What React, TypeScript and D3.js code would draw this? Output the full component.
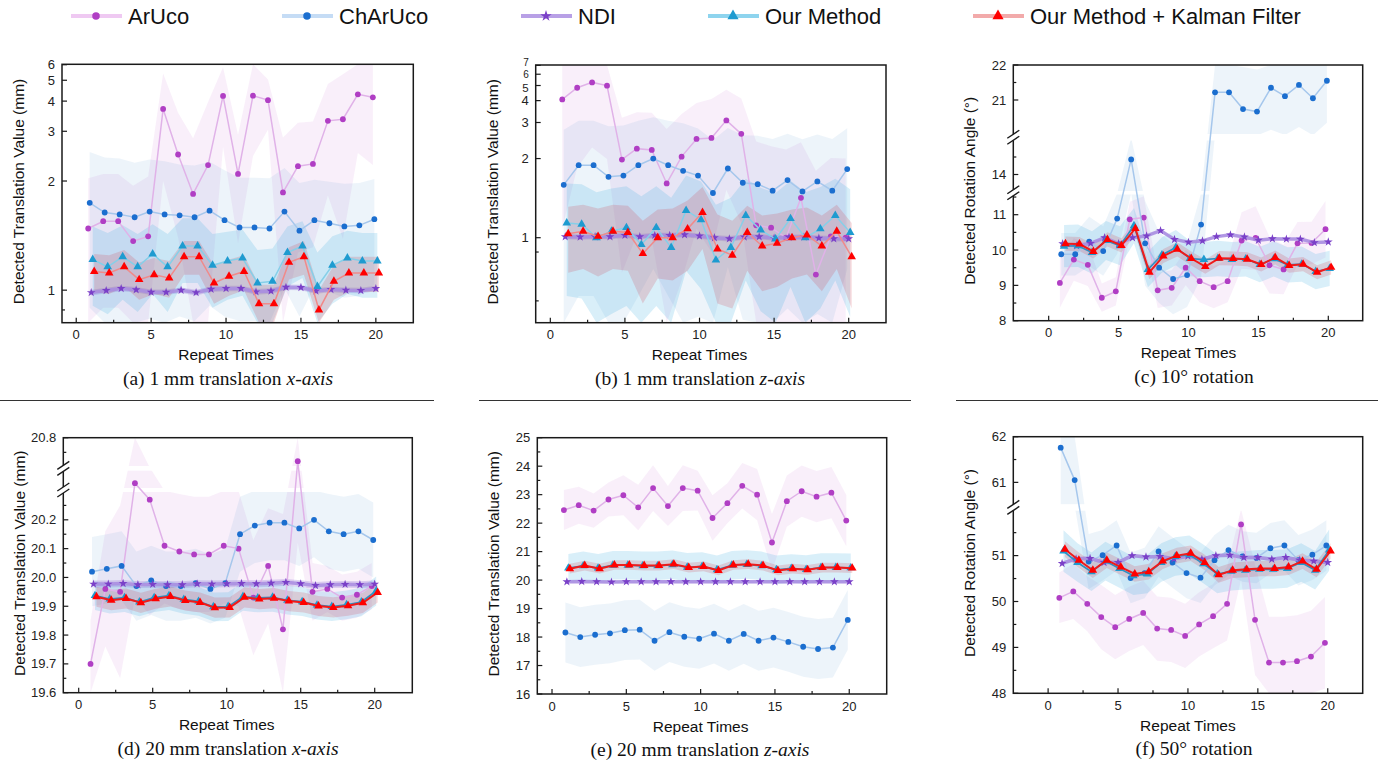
import React from 'react';
import * as d3 from 'd3';

// ---------------- DATA ----------------
const repeats = [1, 2, 3, 4, 5, 6, 7, 8, 9, 10, 11, 12, 13, 14, 15, 16, 17, 18, 19, 20];
const seriesNames = ['ArUco', 'ChArUco', 'NDI', 'Our Method', 'Our Method + Kalman Filter'];

// (a) 1 mm translation x-axis
const aArUco = [1.44, 1.51, 1.51, 1.33, 1.37, 3.70, 2.46, 1.82, 2.26, 4.22, 2.11, 4.23, 4.04, 1.84, 2.24, 2.28, 3.30, 3.35, 4.29, 4.16];
const aArUcoSd = [0.6, 0.6, 0.6, 0.6, 0.7, 1.7, 1.1, 1.0, 1.7, 1.6, 0.8, 1.8, 1.0, 1.0, 1.0, 1.0, 1.5, 2.0, 1.8, 1.9];
const aChArUco = [1.71, 1.60, 1.58, 1.55, 1.61, 1.58, 1.57, 1.55, 1.62, 1.52, 1.45, 1.45, 1.44, 1.61, 1.42, 1.52, 1.49, 1.46, 1.47, 1.53];
const aChArUcoSd = [0.8, 0.8, 0.8, 0.75, 0.75, 0.75, 0.7, 0.7, 0.7, 0.65, 0.6, 0.6, 0.6, 0.6, 0.55, 0.5, 0.5, 0.5, 0.5, 0.5];
const aNDI = [0.987, 0.998, 1.009, 1.002, 0.989, 0.989, 1.0, 0.987, 1.005, 1.009, 1.009, 0.991, 0.996, 1.016, 1.015, 0.996, 1.004, 1.0, 0.998, 1.009];
const aNDISd = [0.015, 0.015, 0.015, 0.015, 0.015, 0.015, 0.015, 0.015, 0.015, 0.015, 0.015, 0.015, 0.015, 0.015, 0.015, 0.015, 0.015, 0.015, 0.015, 0.015];
const aOur = [1.19, 1.14, 1.21, 1.14, 1.23, 1.14, 1.29, 1.29, 1.15, 1.18, 1.20, 1.04, 1.05, 1.24, 1.29, 1.02, 1.15, 1.20, 1.18, 1.18];
const aOurSd = [0.27, 0.26, 0.26, 0.25, 0.25, 0.25, 0.25, 0.25, 0.24, 0.23, 0.23, 0.22, 0.22, 0.22, 0.22, 0.22, 0.22, 0.22, 0.22, 0.22];
const aKalman = [1.11, 1.10, 1.14, 1.06, 1.09, 1.07, 1.21, 1.21, 1.04, 1.08, 1.11, 0.93, 0.93, 1.17, 1.21, 0.90, 1.05, 1.10, 1.10, 1.10];
const aKalmanSd = [0.12, 0.12, 0.12, 0.11, 0.11, 0.11, 0.12, 0.12, 0.11, 0.11, 0.11, 0.1, 0.1, 0.11, 0.12, 0.1, 0.1, 0.11, 0.11, 0.11];

// (b) 1 mm translation z-axis
const bArUco = [4.07, 4.83, 5.25, 4.99, 1.98, 2.22, 2.19, 1.57, 2.04, 2.47, 2.50, 3.08, 2.62, 1.10, 1.08, 1.00, 1.38, 0.77, 1.01, 1.00];
const bArUcoSd = [3.0, 3.0, 3.0, 3.0, 1.2, 1.2, 1.2, 1.2, 1.3, 1.4, 1.6, 1.6, 1.5, 1.3, 1.2, 1.2, 1.0, 1.0, 1.0, 1.0];
const bChArUco = [1.55, 1.87, 1.87, 1.67, 1.69, 1.87, 2.00, 1.87, 1.77, 1.69, 1.44, 1.81, 1.58, 1.56, 1.47, 1.62, 1.46, 1.60, 1.47, 1.80];
const bChArUcoSd = [1.2, 1.2, 1.2, 1.2, 1.2, 1.2, 1.2, 1.2, 1.2, 1.1, 1.0, 1.0, 1.0, 1.0, 1.0, 1.0, 1.0, 1.0, 1.0, 1.0];
const bNDI = [1.008, 1.005, 1.008, 1.008, 1.018, 1.008, 1.018, 1.018, 1.023, 1.013, 1.0, 0.992, 1.005, 1.008, 0.997, 1.003, 1.005, 0.997, 0.992, 0.992];
const bNDISd = [0.02, 0.02, 0.02, 0.02, 0.02, 0.02, 0.02, 0.02, 0.02, 0.02, 0.02, 0.02, 0.02, 0.02, 0.02, 0.02, 0.02, 0.02, 0.02, 0.02];
const bOur = [1.12, 1.11, 1.00, 1.05, 1.08, 0.95, 1.08, 0.93, 1.24, 1.15, 0.85, 0.93, 1.19, 1.06, 0.99, 1.16, 1.00, 1.07, 1.19, 1.04];
const bOurSd = [0.45, 0.45, 0.45, 0.45, 0.45, 0.45, 0.45, 0.45, 0.45, 0.45, 0.45, 0.45, 0.45, 0.45, 0.45, 0.45, 0.45, 0.45, 0.45, 0.45];
const bKalman = [1.03, 1.05, 1.01, 1.05, 1.04, 0.89, 1.00, 1.00, 1.07, 1.22, 0.92, 0.88, 1.04, 0.94, 0.96, 1.00, 1.02, 0.94, 1.05, 0.87];
const bKalmanSd = [0.25, 0.25, 0.25, 0.25, 0.25, 0.25, 0.25, 0.26, 0.28, 0.3, 0.28, 0.26, 0.25, 0.25, 0.25, 0.25, 0.25, 0.25, 0.25, 0.25];

// (c) 10 deg rotation
const cArUco = [9.07, 9.73, 9.58, 8.65, 8.83, 10.87, 10.92, 8.86, 8.93, 9.50, 9.12, 8.95, 9.12, 10.27, 10.34, 9.57, 9.45, 10.19, 10.20, 10.59];
const cArUcoSd = [0.7, 0.6, 0.6, 0.4, 0.4, 0.5, 0.6, 0.5, 0.5, 0.5, 0.6, 0.6, 0.6, 0.8, 0.9, 0.8, 0.7, 0.6, 0.6, 0.8];
const cChArUco = [9.88, 9.88, 10.24, 9.97, 10.89, 14.43, 10.19, 9.50, 9.18, 9.29, 10.72, 21.22, 21.22, 20.74, 20.67, 21.35, 21.11, 21.43, 21.05, 21.55];
const cChArUcoSd = [0.6, 0.6, 0.7, 0.7, 1.0, 2.5, 1.2, 1.0, 1.0, 0.9, 1.5, 1.2, 1.2, 1.2, 1.2, 1.2, 1.2, 1.2, 1.2, 1.2];
const cNDI = [10.18, 10.12, 10.19, 10.35, 10.18, 10.35, 10.40, 10.55, 10.30, 10.22, 10.26, 10.38, 10.43, 10.37, 10.28, 10.32, 10.31, 10.31, 10.21, 10.23];
const cNDISd = [0.03, 0.03, 0.03, 0.03, 0.03, 0.03, 0.03, 0.03, 0.03, 0.03, 0.03, 0.03, 0.03, 0.03, 0.03, 0.03, 0.03, 0.03, 0.03, 0.03];
const cOur = [10.11, 10.12, 9.93, 10.27, 10.12, 10.69, 9.45, 9.86, 10.07, 9.76, 9.73, 9.76, 9.73, 9.75, 9.59, 9.75, 9.58, 9.60, 9.39, 9.48];
const cOurSd = [0.6, 0.6, 0.6, 0.55, 0.55, 0.5, 0.5, 0.5, 0.5, 0.5, 0.5, 0.5, 0.5, 0.5, 0.5, 0.5, 0.5, 0.5, 0.5, 0.5];
const cKalman = [10.18, 10.17, 9.96, 10.30, 10.13, 10.61, 9.37, 9.83, 10.02, 9.76, 9.53, 9.77, 9.76, 9.74, 9.59, 9.79, 9.56, 9.60, 9.37, 9.51];
const cKalmanSd = [0.2, 0.2, 0.2, 0.2, 0.2, 0.2, 0.2, 0.2, 0.2, 0.2, 0.2, 0.2, 0.2, 0.2, 0.2, 0.2, 0.2, 0.2, 0.2, 0.2];

// (d) 20 mm translation x-axis
const dArUco = [19.70, 19.96, 19.95, 20.43, 20.27, 20.11, 20.09, 20.08, 20.08, 20.11, 20.10, 19.93, 20.04, 19.82, 20.72, 19.95, 19.96, 19.93, 19.94, 19.97];
const dArUcoSd = [0.15, 0.2, 0.3, 0.5, 0.4, 0.2, 0.2, 0.2, 0.2, 0.2, 0.2, 0.2, 0.2, 0.4, 0.6, 0.1, 0.08, 0.08, 0.08, 0.08];
const dChArUco = [20.02, 20.03, 20.04, 19.97, 19.99, 19.97, 19.97, 19.98, 19.96, 19.98, 20.15, 20.18, 20.19, 20.19, 20.17, 20.20, 20.16, 20.15, 20.16, 20.13];
const dChArUcoSd = [0.12, 0.12, 0.12, 0.12, 0.12, 0.12, 0.12, 0.12, 0.12, 0.12, 0.13, 0.13, 0.13, 0.13, 0.13, 0.13, 0.13, 0.13, 0.13, 0.13];
const dNDI = [19.977, 19.977, 19.979, 19.975, 19.976, 19.975, 19.975, 19.978, 19.977, 19.978, 19.979, 19.978, 19.980, 19.983, 19.978, 19.972, 19.975, 19.976, 19.975, 19.977];
const dNDISd = [0.012, 0.012, 0.012, 0.012, 0.012, 0.012, 0.012, 0.012, 0.012, 0.012, 0.012, 0.012, 0.012, 0.012, 0.012, 0.012, 0.012, 0.012, 0.012, 0.012];
const dOur = [19.937, 19.925, 19.930, 19.915, 19.930, 19.937, 19.924, 19.917, 19.898, 19.899, 19.934, 19.929, 19.931, 19.921, 19.916, 19.904, 19.899, 19.905, 19.915, 19.953];
const dOurSd = [0.05, 0.05, 0.05, 0.05, 0.05, 0.05, 0.05, 0.05, 0.05, 0.05, 0.05, 0.05, 0.05, 0.05, 0.05, 0.05, 0.05, 0.05, 0.05, 0.05];
const dKalman = [19.933, 19.921, 19.927, 19.912, 19.926, 19.934, 19.920, 19.913, 19.895, 19.896, 19.931, 19.925, 19.928, 19.918, 19.913, 19.901, 19.896, 19.902, 19.912, 19.948];
const dKalmanSd = [0.035, 0.035, 0.035, 0.035, 0.035, 0.035, 0.035, 0.035, 0.035, 0.035, 0.035, 0.035, 0.035, 0.035, 0.035, 0.035, 0.035, 0.035, 0.035, 0.035];

// (e) 20 mm translation z-axis
const eArUco = [22.46, 22.63, 22.44, 22.83, 22.98, 22.55, 23.23, 22.60, 23.23, 23.14, 22.18, 22.70, 23.31, 23.00, 21.32, 22.77, 23.12, 22.93, 23.07, 22.09];
const eArUcoSd = [0.7, 0.65, 0.6, 0.6, 0.7, 0.8, 0.8, 0.7, 0.8, 0.7, 0.8, 0.7, 0.8, 0.9, 1.0, 0.9, 0.9, 0.9, 0.9, 0.9];
const eChArUco = [18.16, 18.00, 18.08, 18.13, 18.24, 18.26, 17.87, 18.17, 18.01, 17.94, 18.12, 17.87, 18.11, 17.87, 17.98, 17.83, 17.66, 17.58, 17.63, 18.60];
const eChArUcoSd = [1.05, 1.05, 1.05, 1.05, 1.05, 1.05, 1.05, 1.05, 1.05, 1.05, 1.05, 1.05, 1.05, 1.05, 1.05, 1.05, 1.05, 1.05, 1.05, 1.05];
const eNDI = [19.94, 19.95, 19.94, 19.93, 19.94, 19.94, 19.94, 19.94, 19.94, 19.94, 19.94, 19.94, 19.94, 19.94, 19.94, 19.94, 19.94, 19.94, 19.94, 19.94];
const eNDISd = [0.05, 0.05, 0.05, 0.05, 0.05, 0.05, 0.05, 0.05, 0.05, 0.05, 0.05, 0.05, 0.05, 0.05, 0.05, 0.05, 0.05, 0.05, 0.05, 0.05];
const eOur = [20.42, 20.50, 20.42, 20.52, 20.52, 20.50, 20.50, 20.54, 20.45, 20.48, 20.36, 20.52, 20.55, 20.50, 20.36, 20.41, 20.37, 20.44, 20.44, 20.43];
const eOurSd = [0.5, 0.5, 0.5, 0.5, 0.5, 0.5, 0.5, 0.5, 0.5, 0.5, 0.5, 0.5, 0.5, 0.5, 0.5, 0.5, 0.5, 0.5, 0.5, 0.5];
const eKalman = [20.40, 20.51, 20.40, 20.53, 20.53, 20.51, 20.51, 20.56, 20.44, 20.48, 20.34, 20.53, 20.56, 20.51, 20.34, 20.40, 20.36, 20.44, 20.44, 20.42];
const eKalmanSd = [0.17, 0.17, 0.17, 0.17, 0.17, 0.17, 0.17, 0.17, 0.17, 0.17, 0.17, 0.17, 0.17, 0.17, 0.17, 0.17, 0.17, 0.17, 0.17, 0.17];

// (f) 50 deg rotation
const fArUco = [50.08, 50.22, 49.95, 49.66, 49.44, 49.62, 49.75, 49.41, 49.38, 49.25, 49.50, 49.68, 49.95, 51.68, 49.60, 48.67, 48.67, 48.70, 48.80, 49.10];
const fArUcoSd = [0.55, 0.6, 0.6, 0.7, 0.7, 0.7, 0.7, 0.7, 0.7, 0.7, 0.7, 0.7, 0.8, 1.2, 1.2, 1.0, 1.0, 1.0, 1.0, 1.0];
const fChArUco = [61.76, 61.05, 50.87, 51.01, 51.22, 50.51, 50.62, 51.09, 50.85, 50.62, 50.52, 50.90, 51.12, 50.98, 50.95, 51.16, 51.22, 50.90, 51.02, 51.22];
const fChArUcoSd = [1.5, 1.5, 0.6, 0.55, 0.55, 0.55, 0.55, 0.55, 0.55, 0.55, 0.55, 0.55, 0.55, 0.55, 0.55, 0.55, 0.55, 0.55, 0.55, 0.55];
const fNDI = [50.83, 50.93, 50.94, 50.85, 50.85, 51.00, 50.97, 50.98, 50.93, 50.99, 50.92, 51.00, 51.01, 50.96, 50.96, 50.92, 50.96, 50.90, 50.88, 50.85];
const fNDISd = [0.04, 0.04, 0.04, 0.04, 0.04, 0.04, 0.04, 0.04, 0.04, 0.04, 0.04, 0.04, 0.04, 0.04, 0.04, 0.04, 0.04, 0.04, 0.04, 0.04];
const fOur = [51.10, 50.85, 50.65, 50.88, 50.72, 50.56, 50.60, 50.85, 50.98, 51.02, 50.82, 50.60, 50.66, 50.68, 50.70, 50.70, 50.72, 50.85, 50.68, 51.12];
const fOurSd = [0.45, 0.42, 0.42, 0.42, 0.42, 0.42, 0.42, 0.42, 0.42, 0.42, 0.42, 0.42, 0.42, 0.42, 0.42, 0.42, 0.42, 0.42, 0.42, 0.45];
const fKalman = [51.14, 50.90, 50.68, 50.90, 50.75, 50.60, 50.65, 50.88, 51.00, 51.05, 50.85, 50.58, 50.68, 50.70, 50.72, 50.72, 50.75, 50.88, 50.70, 51.10];
const fKalmanSd = [0.17, 0.17, 0.17, 0.17, 0.17, 0.17, 0.17, 0.17, 0.17, 0.17, 0.17, 0.17, 0.17, 0.17, 0.17, 0.17, 0.17, 0.17, 0.17, 0.17];

// tick values
const xMajor = [0, 5, 10, 15, 20];
const xMinor = [2.5, 7.5, 12.5, 17.5];
const aYMajor = [1, 2, 3, 4, 5, 6];
const aYMinor = [0.9];
const bYMajor = [1, 2, 3, 4, 5, 6, 7];
const bYMinor = [0.65, 0.9];
const cYMajor = [8, 9, 10, 11, 14, 21, 22];
const cYMinor = [8.5, 9.5, 10.5, 11.5, 14.5, 21.5];
const dYMajor = [19.6, 19.7, 19.8, 19.9, 20.0, 20.1, 20.2, 20.8];
const dYMinor = [19.65, 19.75, 19.85, 19.95, 20.05, 20.15, 20.25, 20.75];
const eYMajor = [16, 17, 18, 19, 20, 21, 22, 23, 24, 25];
const eYMinor = [16.5, 17.5, 18.5, 19.5, 20.5, 21.5, 22.5, 23.5, 24.5];
const fYMajor = [48, 49, 50, 51, 61, 62];
const fYMinor = [48.5, 49.5, 50.5, 51.5, 61.5];

// ---------------- STYLE ----------------
const STYLES = [
  { marker: 'circle', color: '#b03ec4', line: '#e0b2e8', lw: 1.5, band: '#c060d0', bandOp: 0.1, off: -0.2, leg: '#efc9f2' },
  { marker: 'circle', color: '#1b6ecf', line: '#a6c7ec', lw: 1.5, band: '#5b9bd5', bandOp: 0.11, off: -0.1, leg: '#c5dcf5' },
  { marker: 'star', color: '#7a40c8', line: '#a88ce0', lw: 3.5, band: '#8060d0', bandOp: 0.25, off: 0, leg: '#b8a0e6' },
  { marker: 'tri', color: '#1e9bd0', line: '#86cfe8', lw: 1.5, band: '#40b0e0', bandOp: 0.2, off: 0.1, leg: '#8ed4ee' },
  { marker: 'tri', color: '#ff0000', line: '#f08a8a', lw: 1.5, band: '#d04050', bandOp: 0.2, off: 0.2, leg: '#f2aaaa' },
];
const SANS = '"Liberation Sans", Arial, sans-serif';
const SERIF = '"Liberation Serif", "Times New Roman", serif';

function Marker({ type, color, cx, cy, scale = 1 }: any) {
  if (type === 'circle') return <circle cx={cx} cy={cy} r={2.9 * scale} fill={color} />;
  if (type === 'star') {
    const p = d3.symbol().type(d3.symbolStar).size(24 * scale * scale)();
    return <path d={p || ''} transform={`translate(${cx},${cy})`} fill={color} />;
  }
  const p = d3.symbol().type(d3.symbolTriangle).size(32 * scale * scale)();
  return <path d={p || ''} transform={`translate(${cx},${cy})`} fill={color} />;
}

type PanelCfg = {
  id: string;
  box: { l: number; t: number; r: number; b: number };
  xDomain: [number, number];
  y: any;
  yLim: [number, number];
  yMajor: number[];
  yMinor: number[];
  fmt: (v: number) => string;
  labelAdjust?: Record<string, { dy: number; size: number }>;
  breaks: [number, number][];
  title: string;
  caption: [string, string];
  capX: number;
  bold: boolean;
  series: { mean: number[]; sd: number[] }[];
};

function Panel({ cfg }: { cfg: PanelCfg }) {
  const { box } = cfg;
  const x = d3.scaleLinear().domain(cfg.xDomain).range([box.l, box.r]);
  const y = cfg.y;
  const clamp = (v: number) => Math.max(cfg.yLim[0], Math.min(cfg.yLim[1], v));
  const clipId = `clip-${cfg.id}`;
  const midY = (box.t + box.b) / 2;
  const titleX = box.l - 38;

  return (
    <g>
      <defs>
        <clipPath id={clipId}>
          <rect x={box.l} y={box.t} width={box.r - box.l} height={box.b - box.t} />
        </clipPath>
      </defs>
      <g clipPath={`url(#${clipId})`}>
        {cfg.series.map((s, si) => {
          const st = STYLES[si];
          const area = d3
            .area<number>()
            .x((_, i) => x(repeats[i] + st.off))
            .y0((m, i) => y(clamp(m - s.sd[i])))
            .y1((m, i) => y(clamp(m + s.sd[i])));
          return <path key={'b' + si} d={area(s.mean) || ''} fill={st.band} fillOpacity={st.bandOp} stroke="none" />;
        })}
        {cfg.breaks.map(([lo, hi], k) => {
          const y0 = y(hi), y1 = y(lo);
          return <rect key={'g' + k} x={box.l} y={y0 - 1} width={box.r - box.l} height={y1 - y0 + 2} fill="#fff" />;
        })}
        {cfg.series.map((s, si) => {
          const st = STYLES[si];
          let lineColor = st.line, lw = st.lw;
          if (cfg.bold && si === 3) { lineColor = '#2e8fc0'; lw = 1.6; }
          if (cfg.bold && si === 4) { lineColor = '#ee1c1c'; lw = 2; }
          const line = d3
            .line<number>()
            .x((_, i) => x(repeats[i] + st.off))
            .y((m) => y(clamp(m)));
          return (
            <g key={'s' + si}>
              <path d={line(s.mean) || ''} fill="none" stroke={lineColor} strokeWidth={lw} strokeOpacity={si === 2 ? 0.85 : 1} />
              {s.mean.map((m, i) => (
                <Marker key={i} type={st.marker} color={st.color} cx={x(repeats[i] + st.off)} cy={y(clamp(m))} />
              ))}
            </g>
          );
        })}
      </g>
      {/* frame */}
      <rect x={box.l} y={box.t} width={box.r - box.l} height={box.b - box.t} fill="none" stroke="#1a1a1a" strokeWidth={1.5} />
      {/* x ticks */}
      {xMajor.map((v) => (
        <g key={'xm' + v}>
          <line x1={x(v)} x2={x(v)} y1={box.b} y2={box.b - 5} stroke="#1a1a1a" strokeWidth={1.2} />
          <text x={x(v)} y={box.b + 16.5} textAnchor="middle" fontFamily={SANS} fontSize={13} fill="#222">{v}</text>
        </g>
      ))}
      {xMinor.map((v) => (
        <line key={'xn' + v} x1={x(v)} x2={x(v)} y1={box.b} y2={box.b - 3} stroke="#1a1a1a" strokeWidth={1.2} />
      ))}
      {/* y ticks */}
      {cfg.yMajor.map((v) => {
        const adj = cfg.labelAdjust && cfg.labelAdjust[String(v)];
        const size = adj ? adj.size : 13;
        const dy = adj ? adj.dy : 0;
        return (
          <g key={'ym' + v}>
            <line x1={box.l} x2={box.l + 5} y1={y(v)} y2={y(v)} stroke="#1a1a1a" strokeWidth={1.2} />
            <text x={box.l - 7} y={y(v) + dy + size * 0.35} textAnchor="end" fontFamily={SANS} fontSize={size} fill="#222">{cfg.fmt(v)}</text>
          </g>
        );
      })}
      {cfg.yMinor.map((v) => (
        <line key={'yn' + v} x1={box.l} x2={box.l + 3} y1={y(v)} y2={y(v)} stroke="#1a1a1a" strokeWidth={1.2} />
      ))}
      {/* axis break symbols */}
      {cfg.breaks.map(([lo, hi], k) => {
        const c = (y(lo) + y(hi)) / 2;
        return (
          <g key={'bk' + k}>
            <rect x={box.l - 2} y={c - 3} width={4} height={6} fill="#fff" />
            <line x1={box.l - 6} y1={c - 3 + 4} x2={box.l + 6} y2={c - 3 - 4} stroke="#1a1a1a" strokeWidth={1.4} />
            <line x1={box.l - 6} y1={c + 3 + 4} x2={box.l + 6} y2={c + 3 - 4} stroke="#1a1a1a" strokeWidth={1.4} />
          </g>
        );
      })}
      {/* titles */}
      <text x={x(10)} y={box.b + 37.5} textAnchor="middle" fontFamily={SANS} fontSize={15.5} fill="#111">Repeat Times</text>
      <text transform={`translate(${titleX},${midY - 2}) rotate(-90)`} textAnchor="middle" fontFamily={SANS} fontSize={15.5} fill="#111">{cfg.title}</text>
      <text x={cfg.capX} y={box.b + 62} textAnchor="middle" fontFamily={SERIF} fontSize={19.5} fill="#111">
        {cfg.caption[0]}
        {cfg.caption[1] ? <tspan fontStyle="italic">{cfg.caption[1]}</tspan> : null}
      </text>
    </g>
  );
}

function brokenScale(domain: number[], range: number[]) {
  return d3.scaleLinear().domain(domain).range(range);
}

export default function App() {
  const fmt0 = (v: number) => String(v);
  const fmt1 = (v: number) => v.toFixed(1);
  const panels: PanelCfg[] = [
    {
      id: 'a', box: { l: 62, t: 64.3, r: 413.3, b: 322.7 }, xDomain: [-0.95, 22.5],
      y: d3.scalePow().exponent(-0.45).domain([0.843, 6.03]).range([322.7, 64.3]), yLim: [0.843, 6.03],
      yMajor: aYMajor, yMinor: aYMinor, fmt: fmt0, breaks: [],
      title: 'Detected Translation Value (mm)', caption: ['(a) 1 mm translation ', 'x-axis'], capX: 228, bold: false,
      series: [
        { mean: aArUco, sd: aArUcoSd }, { mean: aChArUco, sd: aChArUcoSd }, { mean: aNDI, sd: aNDISd },
        { mean: aOur, sd: aOurSd }, { mean: aKalman, sd: aKalmanSd },
      ],
    },
    {
      id: 'b', box: { l: 535.7, t: 65, r: 886, b: 322.7 }, xDomain: [-0.98, 22.5],
      y: d3.scalePow().exponent(-0.45).domain([0.57, 7.05]).range([322.7, 65]), yLim: [0.57, 7.05],
      yMajor: bYMajor, yMinor: bYMinor, fmt: fmt0, breaks: [],
      labelAdjust: { '7': { dy: -3, size: 10 }, '6': { dy: 0.5, size: 10 }, '5': { dy: 2, size: 11.5 } },
      title: 'Detected Translation Value (mm)', caption: ['(b) 1 mm translation ', 'z-axis'], capX: 700, bold: false,
      series: [
        { mean: bArUco, sd: bArUcoSd }, { mean: bChArUco, sd: bChArUcoSd }, { mean: bNDI, sd: bNDISd },
        { mean: bOur, sd: bOurSd }, { mean: bKalman, sd: bKalmanSd },
      ],
    },
    {
      id: 'c', box: { l: 1013.3, t: 65, r: 1362.7, b: 320.7 }, xDomain: [-2.53, 22.46],
      y: brokenScale([8, 11.6, 13.5, 15, 20, 22], [320.7, 193.5, 192, 139.5, 135, 65]), yLim: [8, 22],
      yMajor: cYMajor, yMinor: cYMinor, fmt: fmt0, breaks: [[11.6, 13.5], [15, 20]],
      title: 'Detected Rotation Angle (°)', caption: ['(c) 10° rotation', ''], capX: 1194, bold: true,
      series: [
        { mean: cArUco, sd: cArUcoSd }, { mean: cChArUco, sd: cChArUcoSd }, { mean: cNDI, sd: cNDISd },
        { mean: cOur, sd: cOurSd }, { mean: cKalman, sd: cKalmanSd },
      ],
    },
    {
      id: 'd', box: { l: 63.3, t: 437.7, r: 412.3, b: 692.7 }, xDomain: [-1.04, 22.54],
      y: brokenScale([19.6, 20.3, 20.4, 20.5, 20.7, 20.8], [692.7, 491, 489, 469.7, 467, 437.7]), yLim: [19.6, 20.8],
      yMajor: dYMajor, yMinor: dYMinor, fmt: fmt1, breaks: [[20.3, 20.4], [20.5, 20.7]],
      title: 'Detected Translation Value (mm)', caption: ['(d) 20 mm translation ', 'x-axis'], capX: 228, bold: true,
      series: [
        { mean: dArUco, sd: dArUcoSd }, { mean: dChArUco, sd: dChArUcoSd }, { mean: dNDI, sd: dNDISd },
        { mean: dOur, sd: dOurSd }, { mean: dKalman, sd: dKalmanSd },
      ],
    },
    {
      id: 'e', box: { l: 537.3, t: 437.7, r: 886.7, b: 694 }, xDomain: [-0.99, 22.52],
      y: d3.scaleLinear().domain([16, 25]).range([694, 437.7]), yLim: [16, 25],
      yMajor: eYMajor, yMinor: eYMinor, fmt: fmt0, breaks: [],
      title: 'Detected Translation Value (mm)', caption: ['(e) 20 mm translation ', 'z-axis'], capX: 700, bold: true,
      series: [
        { mean: eArUco, sd: eArUcoSd }, { mean: eChArUco, sd: eChArUcoSd }, { mean: eNDI, sd: eNDISd },
        { mean: eOur, sd: eOurSd }, { mean: eKalman, sd: eKalmanSd },
      ],
    },
    {
      id: 'f', box: { l: 1013.3, t: 436.7, r: 1362.7, b: 693.3 }, xDomain: [-2.49, 22.5],
      y: brokenScale([48, 52, 60.5, 62], [693.3, 509.7, 505.2, 436.7]), yLim: [48, 62],
      yMajor: fYMajor, yMinor: fYMinor, fmt: fmt0, breaks: [[52, 60.5]],
      title: 'Detected Rotation Angle (°)', caption: ['(f) 50° rotation', ''], capX: 1194, bold: true,
      series: [
        { mean: fArUco, sd: fArUcoSd }, { mean: fChArUco, sd: fChArUcoSd }, { mean: fNDI, sd: fNDISd },
        { mean: fOur, sd: fOurSd }, { mean: fKalman, sd: fKalmanSd },
      ],
    },
  ];

  const legendX = [96, 307, 546, 733, 998];

  return (
    <svg width={1378} height={765} style={{ position: 'absolute', left: 0, top: 0, background: '#fff' }}>
      <rect x={0} y={0} width={1378} height={765} fill="#fff" />
      {/* legend */}
      {seriesNames.map((name, i) => {
        const st = STYLES[i];
        const cx = legendX[i];
        return (
          <g key={name}>
            <line x1={cx - 25} x2={cx + 26} y1={16} y2={16} stroke={st.leg} strokeWidth={4} />
            <Marker type={st.marker} color={st.color} cx={cx} cy={16} scale={1.3} />
            <text x={cx + 32} y={24} fontFamily={SANS} fontSize={22} fill="#111">{name}</text>
          </g>
        );
      })}
      {panels.map((p) => <Panel key={p.id} cfg={p} />)}
      {/* separators */}
      <line x1={0} x2={434} y1={400.5} y2={400.5} stroke="#333" strokeWidth={1} />
      <line x1={479} x2={911} y1={400.5} y2={400.5} stroke="#333" strokeWidth={1} />
      <line x1={956} x2={1378} y1={400.5} y2={400.5} stroke="#333" strokeWidth={1} />
    </svg>
  );
}
